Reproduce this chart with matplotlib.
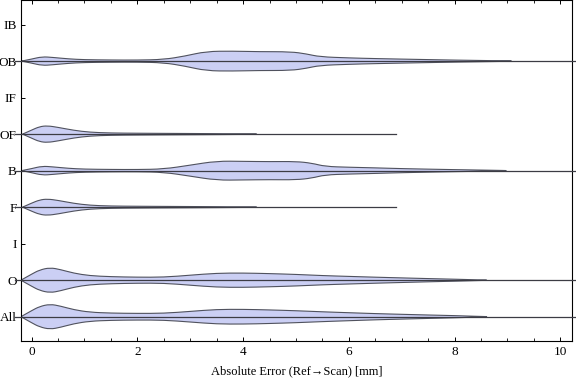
import numpy as np
import matplotlib
matplotlib.use('Agg')
import matplotlib.pyplot as plt
from matplotlib.path import Path
from matplotlib.patches import PathPatch
from matplotlib.ticker import MultipleLocator

plt.rcParams['font.family'] = ['Liberation Serif', 'DejaVu Serif']

# categories, bottom to top
categories = ['All', 'O', 'I', 'F', 'B', 'OF', 'IF', 'OB', 'IB']

# violin outlines: error values and half widths (pixels)
prof_x = {
    'OB': [-0.19, 0.0, 0.2, 0.4, 0.7, 1.0, 1.5, 2.0, 2.5, 2.9, 3.3, 3.8, 4.3, 4.9,
           5.2, 5.45, 6.0, 6.5, 7.5, 8.0, 8.8, 9.2],
    'OF': [-0.17, 0.0, 0.15, 0.3, 0.5, 0.8, 1.1, 1.5, 2.0, 2.7, 3.5, 4.6],
    'B': [-0.19, 0.0, 0.2, 0.4, 0.7, 1.0, 1.5, 2.0, 2.5, 3.0, 3.5, 4.0, 4.5, 5.0,
          5.3, 5.55, 6.0, 6.5, 7.0, 8.0, 8.7, 9.1],
    'F': [-0.17, 0.0, 0.15, 0.3, 0.5, 0.8, 1.1, 1.5, 2.0, 2.7, 3.5, 4.6],
    'O': [-0.2, 0.0, 0.15, 0.35, 0.55, 0.8, 1.1, 1.5, 2.0, 2.5, 3.0, 3.5, 4.0, 4.5,
          5.0, 5.5, 6.0, 6.5, 7.0, 7.5, 8.0, 8.4, 8.7],
    'All': [-0.2, 0.0, 0.15, 0.35, 0.55, 0.8, 1.1, 1.5, 2.0, 2.5, 3.0, 3.5, 4.0, 4.5,
            5.0, 5.5, 6.0, 6.5, 7.0, 7.5, 8.0, 8.4, 8.7],
}
prof_w = {
    'OB': [0, 2.0, 4.4, 3.7, 2.2, 1.4, 1.1, 1.0, 1.6, 5.0, 9.7, 10.0, 9.4, 9.4,
           7.2, 4.3, 3.2, 2.5, 1.5, 1.0, 0.4, 0],
    'OF': [0, 4.0, 7.5, 8.4, 6.8, 3.8, 1.9, 1.1, 0.9, 0.7, 0.5, 0],
    'B': [0, 2.0, 4.5, 3.8, 2.3, 1.5, 1.2, 1.1, 1.6, 5.5, 9.6, 9.3, 9.0, 9.2,
          7.5, 4.2, 3.4, 2.8, 2.0, 1.0, 0.4, 0],
    'F': [0, 4.0, 7.2, 8.2, 6.8, 3.8, 1.9, 1.1, 0.9, 0.7, 0.5, 0],
    'O': [0, 6.0, 10.2, 12.6, 10.6, 7.0, 4.5, 3.5, 3.0, 3.0, 5.0, 7.0, 7.2, 6.6,
          5.8, 4.6, 3.8, 3.0, 2.3, 1.6, 1.0, 0.4, 0],
    'All': [0, 6.0, 10.2, 12.6, 10.6, 7.0, 4.5, 3.6, 3.3, 3.4, 5.3, 7.3, 7.4, 6.8,
            6.0, 4.9, 4.0, 3.1, 2.4, 1.7, 1.1, 0.4, 0],
}
# extent of the dark centre line for each shown group
line_end = {'OB': 10.31, 'OF': 6.9, 'B': 10.31, 'F': 6.9, 'O': 10.31, 'All': 10.31}

px_per_unit = 36.55  # half widths above were read in pixels
fill_col = '#cbcff4'
edge_col = '#50525e'


def smooth_path(pts):
    """quadratic b-spline through the outline control points"""
    verts = [pts[0], (pts[0] + pts[1]) / 2]
    codes = [Path.MOVETO, Path.LINETO]
    for i in range(1, len(pts) - 1):
        verts += [pts[i], (pts[i] + pts[i + 1]) / 2]
        codes += [Path.CURVE3, Path.CURVE3]
    verts.append(pts[-1])
    codes.append(Path.LINETO)
    return Path(np.array(verts), codes)


fig = plt.figure(figsize=(5.76, 3.81), dpi=100)
ax = fig.add_axes([21 / 576, 40.3 / 381, 551 / 576, 340.4 / 381])

for k, name in enumerate(categories):
    y = k + 1
    if name not in prof_x:
        continue
    xs = np.array(prof_x[name])
    hw = np.array(prof_w[name]) / px_per_unit
    upper = np.column_stack([xs, y + hw])
    lower = np.column_stack([xs, y - hw])[::-1]
    pts = np.vstack([upper, lower[1:]])
    ax.add_patch(PathPatch(smooth_path(pts), facecolor=fill_col,
                           edgecolor=edge_col, lw=0.8, zorder=2))
    ax.plot([-0.31, line_end[name]], [y, y], color='#3c3c44', lw=0.9,
            zorder=3, clip_on=False)

ax.set_xlim(-0.199, 10.22)
ax.set_ylim(0.343, 9.665)
ax.set_yticks(range(1, len(categories) + 1))
ax.set_yticklabels(categories)
ax.xaxis.set_major_locator(MultipleLocator(2))
ax.xaxis.set_minor_locator(MultipleLocator(0.5))
ax.tick_params(axis='x', which='major', direction='in', length=3.2, width=0.7,
               top=True, labelsize=9.5, pad=4)
ax.tick_params(axis='x', which='minor', direction='in', length=1.9, width=0.6,
               top=True)
ax.tick_params(axis='y', direction='in', length=3.0, width=0.7, labelsize=9.5,
               pad=3, right=False)
for sp in ax.spines.values():
    sp.set_linewidth(0.8)
ax.set_xlabel('Absolute Error (Ref\u2192Scan) [mm]', fontsize=9, labelpad=5)

plt.savefig('out.png', dpi=100)
